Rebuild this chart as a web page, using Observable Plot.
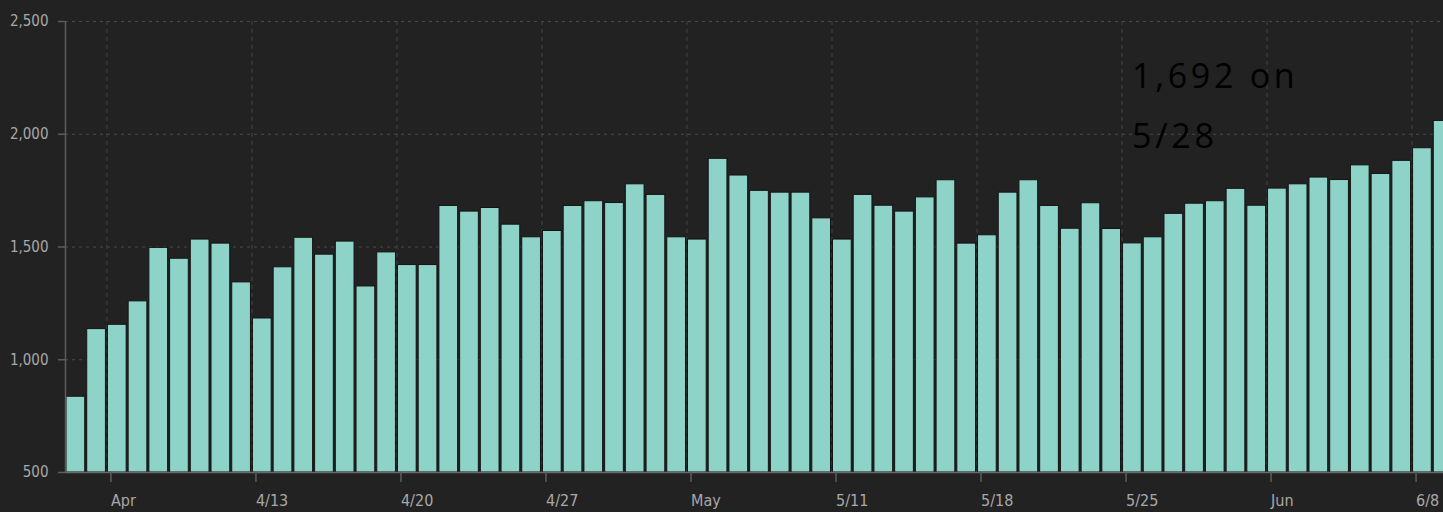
<!DOCTYPE html>
<html>
<head>
<meta charset="utf-8">
<script src="https://cdn.jsdelivr.net/npm/d3@7"></script>
<script src="https://cdn.jsdelivr.net/npm/@observablehq/plot@0.6"></script>
<style>
  html, body { margin: 0; padding: 0; background: #222222; overflow: hidden; }
  #chart { width: 1443px; height: 512px; overflow: hidden; }
  #chart svg { max-width: none !important; }
</style>
</head>
<body>
<div id="chart"></div>
<script>
// ---- data ----
const startDate = "2025-04-04";
const dailyValues = [
  836, 1136, 1155, 1259, 1496, 1448, 1533, 1515, 1343, 1183,
  1410, 1541, 1466, 1524, 1325, 1476, 1420, 1420, 1682, 1657,
  1673, 1599, 1543, 1571, 1682, 1703, 1695,
  1778, 1731, 1543, 1533, 1891, 1817, 1749, 1741, 1741, 1627,
  1533, 1731, 1683, 1657, 1720, 1796, 1515, 1552, 1741, 1796,
  1682, 1581, 1694, 1580, 1516, 1543, 1647, 1692, 1703, 1758, 1683,
  1759, 1778, 1808, 1797, 1862, 1824, 1882, 1938, 2059
];
const xDomain = ["2025-04-04", "2025-06-10"];
const xTickDates = ["2025-04-06", "2025-04-13", "2025-04-20", "2025-04-27", "2025-05-04",
                    "2025-05-11", "2025-05-18", "2025-05-25", "2025-06-01", "2025-06-08"];
const xTickLabels = ["Apr", "4/13", "4/20", "4/27", "May", "5/11", "5/18", "5/25", "Jun", "6/8"];
const yDomain = [500, 2500];
const yTicks = [500, 1000, 1500, 2000, 2500];
const annotationText = "1,692 on\n5/28";
const annotationDate = "2025-05-25";
const annotationValue = 2500;

// ---- build table ----
const start = new Date(startDate);
const rows = dailyValues.map((v, i) => {
  const d = d3.utcDay.offset(start, i);
  return { date: d, next: d3.utcDay.offset(d, 1), value: v };
});
const tickDates = xTickDates.map(s => new Date(s));
const labelByTime = new Map(tickDates.map((d, i) => [+d, xTickLabels[i]]));
const commaFormat = d3.format(",");

const chart = Plot.plot({
  width: 1453,
  height: 512,
  marginLeft: 65,
  marginRight: 0,
  marginTop: 21,
  marginBottom: 40,
  style: {
    background: "#222222",
    color: "#a8a8a8",
    fontFamily: "'Liberation Sans Narrow', 'DejaVu Sans Condensed', sans-serif",
    overflow: "visible",
    maxWidth: "none"
  },
  x: { type: "utc", domain: xDomain.map(s => new Date(s)) },
  y: { domain: yDomain },
  marks: [
    Plot.gridY(yTicks.slice(1), { stroke: "#4a4a4a", strokeOpacity: 1, strokeDasharray: "3,4" }),
    Plot.gridX(tickDates, { stroke: "#444444", strokeOpacity: 1, strokeDasharray: "4,4" }),
    Plot.rectY(rows, {
      x1: "date", x2: "next", y1: yDomain[0], y2: "value",
      fill: "#8dd3c7", stroke: "#141414", strokeWidth: 1,
      insetLeft: 1, insetRight: 1
    }),
    Plot.ruleY([yDomain[0]], { stroke: "#6a6a6a", strokeWidth: 1.5 }),
    Plot.ruleX([new Date(xDomain[0])], { y1: yDomain[0], y2: yDomain[1], stroke: "#5c5c5c", strokeWidth: 1.5 }),
    Plot.axisY(yTicks, {
      tickFormat: commaFormat, tickSize: 7, tickPadding: 10, fontSize: 15,
      stroke: "#5c5c5c", fill: "#a8a8a8", label: null, strokeWidth: 1.5
    }),
    Plot.axisX(tickDates, {
      tickFormat: d => labelByTime.get(+d), tickSize: 10, tickPadding: 12,
      textAnchor: "start", dx: 4, fontSize: 16,
      stroke: "#5c5c5c", fill: "#a8a8a8", label: null, strokeWidth: 1.5
    }),
    Plot.text([{ date: new Date(annotationDate), value: annotationValue, text: annotationText }], {
      x: "date", y: "value", text: "text",
      textAnchor: "start", lineAnchor: "top",
      dx: 10, dy: 24, fontSize: 34, lineHeight: 1.77,
      fill: "#000000", fontFamily: "'Open Sans', 'Noto Sans', sans-serif",
      className: "annot"
    })
  ]
});

document.getElementById("chart").appendChild(chart);
chart.querySelectorAll('g[aria-label="text"] text').forEach(t => {
  t.style.letterSpacing = "3.7px";
});
</script>
</body>
</html>
